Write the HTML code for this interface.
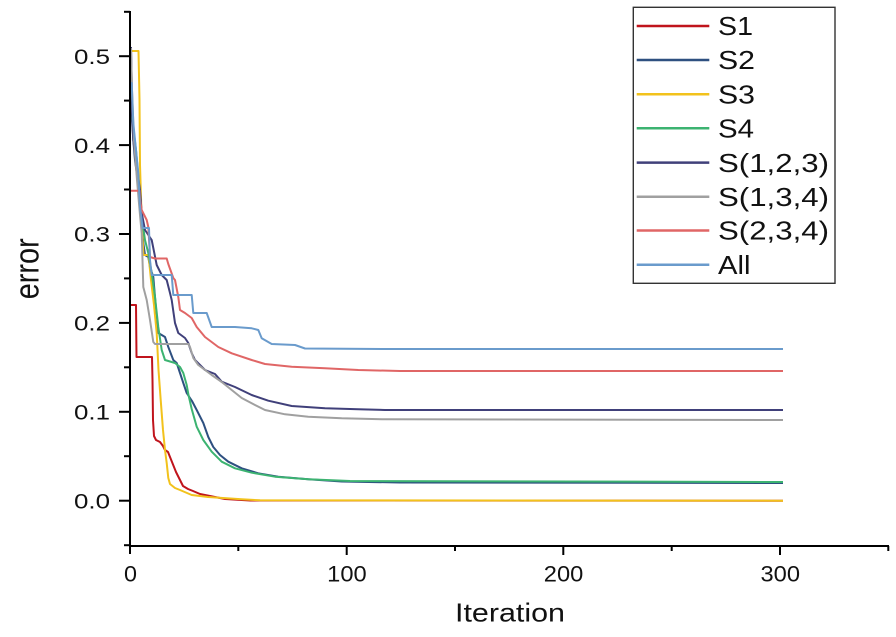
<!DOCTYPE html>
<html>
<head>
<meta charset="utf-8">
<style>
html,body{margin:0;padding:0;background:#ffffff;}
svg{display:block;}
text{font-family:"Liberation Sans",Arial,sans-serif;fill:#111;}
</style>
</head>
<body>
<svg width="896" height="637" viewBox="0 0 896 637" xmlns="http://www.w3.org/2000/svg">
<rect x="0" y="0" width="896" height="637" fill="#ffffff"/>

<!-- series -->
<g fill="none" stroke-width="2" stroke-linejoin="round">
<!-- S1 -->
<polyline stroke="#c0141c" points="130.5,305 136,305 136.5,357 152,357 152.5,380 153,420 154,436 156,440 160,442 163,446 165,450 168,452 172,462 176,472 180,480 183,486 188,489 193,491 200,494 210,496 225,499 250,500.5 783,500.7"/>
<!-- S2 -->
<polyline stroke="#2e5080" points="130.5,103 132,120 133.3,140 135,160 137,175 139,190 141,215 143.3,243 145,255 148.3,257 150,267 153.3,277 155,297 156.7,317 158.3,333 161.7,335 165,337 168.3,347 173.3,360 176.7,363 180,373 183.3,383 186.7,393 190,398 192,401 196.7,410 203.3,423 208.3,437 213.3,447 220,455 228.3,461.7 241.7,468.3 258.3,473.3 278.3,476.7 308.3,479.3 341.7,481.5 400,482.5 783,483"/>
<!-- S3 -->
<polyline stroke="#f2c21c" points="131,51 138.5,51 139.5,100 140,165 142,230 143.5,255 148.5,255 151,280 154,305 156.7,333 158.5,370 160.7,400 163,430 165,450 166.7,463 168.3,478 170,484 175,488 180,490 191.7,495 208,497 241.7,499.3 260,500.3 783,500.7"/>
<!-- S4 -->
<polyline stroke="#3cb371" points="130.5,110 133,125 136,150 139,185 141.5,215 145,240 148.3,253 151.7,273 155,297 158.3,327 161.7,350 165,360 175,363 180,367 183.3,373 186.7,385 188.5,395 191.7,409 196.7,426.7 203.3,440 211.7,451.7 221.7,461.7 235,468.3 251.7,472.7 275,476.7 308.3,479.3 350,481 783,482"/>
<!-- S(1,2,3) -->
<polyline stroke="#40407a" points="131,47 131.7,80 131.7,107 133.3,140 136.7,167 140,190 141.7,213 145,230 151.7,240 156.7,265 161.7,275 166.7,280 170,293 171.7,300 175,323 178.3,333 185,338 188.3,343 191.7,353 195,360 205,370 215,374 221.7,381.7 235,387 251.7,395 268.3,400.7 291.7,406 325,408.3 358.3,409.3 385,410 783,410"/>
<!-- S(1,3,4) -->
<polyline stroke="#a0a0a0" points="131,48 132,90 134,140 137,180 140,215 141.7,233 143.3,287 146.7,300 150,320 153.3,342 155,344 188.3,344 190,347 193.3,358 198.3,365 205,370 211.7,375 221.7,382 231.7,390 241.7,398 251.7,403.3 265,410 285,414.3 308.3,416.7 341.7,418.3 385,419.3 783,420"/>
<!-- S(2,3,4) -->
<polyline stroke="#e06666" points="130,190.7 139.5,190.7 140,200 141.7,210 146.7,220 148.3,227 150,257 155,258.5 166.7,258.5 168.3,264 173.3,278 175,280 178.3,297 180,310 185,313 191.7,318 196.7,327 205,337 218.3,347 231.7,353.3 251.7,360 265,364 291.7,366.7 325,368.3 358.3,370 400,371 783,371"/>
<!-- All -->
<polyline stroke="#6a9bcc" points="130.5,88 131.7,83 133.3,123 138.3,173 140,207 142.7,228 149,228 150,260 151.7,275 171.7,275 173.3,295 191.7,295 193.3,313 206.7,313 211.7,327 235,327 251.7,328.3 258.3,330 261.7,338.3 271.7,344 295,345 305,348.5 385,349 783,349"/>
</g>

<!-- axes -->
<g stroke="#000" stroke-width="2" fill="none">
<line x1="130" y1="11" x2="130" y2="554"/>
<line x1="129" y1="546" x2="889" y2="546"/>
<!-- y major ticks -->
<line x1="119" y1="56.2" x2="130" y2="56.2"/>
<line x1="119" y1="145.1" x2="130" y2="145.1"/>
<line x1="119" y1="234" x2="130" y2="234"/>
<line x1="119" y1="322.9" x2="130" y2="322.9"/>
<line x1="119" y1="411.8" x2="130" y2="411.8"/>
<line x1="119" y1="500.7" x2="130" y2="500.7"/>
<!-- y minor ticks -->
<line x1="124" y1="11.8" x2="130" y2="11.8"/>
<line x1="124" y1="100.6" x2="130" y2="100.6"/>
<line x1="124" y1="189.5" x2="130" y2="189.5"/>
<line x1="124" y1="278.4" x2="130" y2="278.4"/>
<line x1="124" y1="367.3" x2="130" y2="367.3"/>
<line x1="124" y1="456.2" x2="130" y2="456.2"/>
<line x1="124" y1="545.2" x2="130" y2="545.2"/>
<!-- x major ticks -->
<line x1="346.7" y1="546" x2="346.7" y2="555"/>
<line x1="563.3" y1="546" x2="563.3" y2="555"/>
<line x1="780" y1="546" x2="780" y2="555"/>
<!-- x minor ticks -->
<line x1="238.3" y1="546" x2="238.3" y2="551"/>
<line x1="455" y1="546" x2="455" y2="551"/>
<line x1="671.7" y1="546" x2="671.7" y2="551"/>
<line x1="888.3" y1="546" x2="888.3" y2="551"/>
</g>

<!-- y tick labels -->
<g font-size="21.5" text-anchor="end">
<text x="110" y="64" textLength="36" lengthAdjust="spacingAndGlyphs">0.5</text>
<text x="110" y="152.8" textLength="36" lengthAdjust="spacingAndGlyphs">0.4</text>
<text x="110" y="241.7" textLength="36" lengthAdjust="spacingAndGlyphs">0.3</text>
<text x="110" y="330.6" textLength="36" lengthAdjust="spacingAndGlyphs">0.2</text>
<text x="110" y="419.5" textLength="36" lengthAdjust="spacingAndGlyphs">0.1</text>
<text x="110" y="508.4" textLength="36" lengthAdjust="spacingAndGlyphs">0.0</text>
</g>

<!-- x tick labels -->
<g font-size="22">
<text x="124" y="581.5" textLength="13" lengthAdjust="spacingAndGlyphs">0</text>
<text x="327.2" y="581.5" textLength="39.5" lengthAdjust="spacingAndGlyphs">100</text>
<text x="543.8" y="581.5" textLength="39.5" lengthAdjust="spacingAndGlyphs">200</text>
<text x="760.5" y="581.5" textLength="39.5" lengthAdjust="spacingAndGlyphs">300</text>
</g>

<!-- axis titles -->
<text x="455" y="621.7" font-size="25.7" textLength="110" lengthAdjust="spacingAndGlyphs">Iteration</text>
<g transform="translate(38.3,268.8) scale(1.18,1) rotate(-90)">
<text x="0" y="0" font-size="29" text-anchor="middle" textLength="61" lengthAdjust="spacingAndGlyphs">error</text>
</g>

<!-- legend -->
<rect x="633.3" y="7.3" width="201.7" height="276" fill="#ffffff" stroke="#333" stroke-width="1.4"/>
<g stroke-width="2.5">
<line x1="636.7" y1="26" x2="709.3" y2="26" stroke="#c0141c"/>
<line x1="636.7" y1="60" x2="709.3" y2="60" stroke="#2e5080"/>
<line x1="636.7" y1="94.2" x2="709.3" y2="94.2" stroke="#f2c21c"/>
<line x1="636.7" y1="128.2" x2="709.3" y2="128.2" stroke="#3cb371"/>
<line x1="636.7" y1="162.6" x2="709.3" y2="162.6" stroke="#40407a"/>
<line x1="636.7" y1="196.7" x2="709.3" y2="196.7" stroke="#a0a0a0"/>
<line x1="636.7" y1="230.5" x2="709.3" y2="230.5" stroke="#e06666"/>
<line x1="636.7" y1="264.8" x2="709.3" y2="264.8" stroke="#6a9bcc"/>
</g>
<g font-size="25.6">
<text x="718" y="35.2" textLength="35" lengthAdjust="spacingAndGlyphs">S1</text>
<text x="718" y="69.2" textLength="37" lengthAdjust="spacingAndGlyphs">S2</text>
<text x="718" y="103.4" textLength="37" lengthAdjust="spacingAndGlyphs">S3</text>
<text x="718" y="137.4" textLength="36" lengthAdjust="spacingAndGlyphs">S4</text>
<text x="718" y="171.8" textLength="111" lengthAdjust="spacingAndGlyphs">S(1,2,3)</text>
<text x="718" y="205.9" textLength="111" lengthAdjust="spacingAndGlyphs">S(1,3,4)</text>
<text x="718" y="239.7" textLength="111" lengthAdjust="spacingAndGlyphs">S(2,3,4)</text>
<text x="718" y="274" textLength="32.5" lengthAdjust="spacingAndGlyphs">All</text>
</g>
</svg>
</body>
</html>
